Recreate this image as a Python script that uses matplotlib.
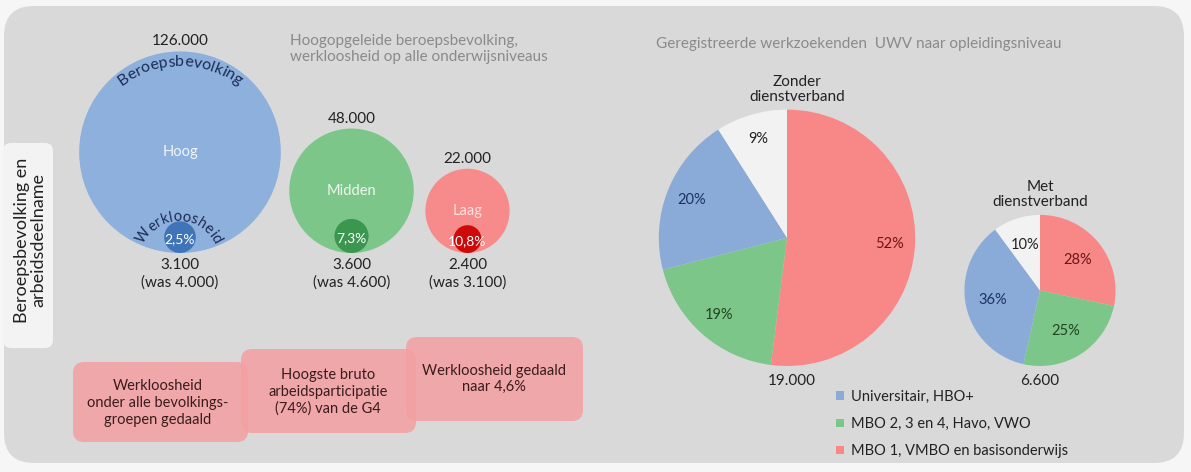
import numpy as np
import matplotlib
matplotlib.use("Agg")
import matplotlib.pyplot as plt
from matplotlib.patches import Circle, FancyBboxPatch
from matplotlib.font_manager import FontProperties

# ---------------- data ----------------
levels = ["Hoog", "Midden", "Laag"]
labour_force = [126000, 48000, 22000]
unemployed = [3100, 3600, 2400]
unemployed_before = [4000, 4600, 3100]
unemployment_rate = ["2,5%", "7,3%", "10,8%"]

pie_categories = ["MBO 1, VMBO en basisonderwijs", "MBO 2, 3 en 4, Havo, VWO",
                  "Universitair, HBO+", "Onbekend"]
zonder_pct = [52, 19, 20, 9]
met_pct = [28, 25, 36, 10]
pie_totals = [19000, 6600]
pie_titles = ["Zonder\ndienstverband", "Met\ndienstverband"]

highlights = ["Werkloosheid\nonder alle bevolkings-\ngroepen gedaald",
              "Hoogste bruto\narbeidsparticipatie\n(74%) van de G4",
              "Werkloosheid gedaald\nnaar 4,6%"]

title_left = "Hoogopgeleide beroepsbevolking,\nwerkloosheid op alle onderwijsniveaus"
title_right = "Geregistreerde werkzoekenden  UWV naar opleidingsniveau"
side_label = "Beroepsbevolking en\narbeidsdeelname"

# ---------------- style ----------------
FONT = "Lato"
plt.rcParams["font.family"] = [FONT, "DejaVu Sans"]
W, H = 1191, 472
PANEL = "#d9d9d9"
bubble_cols = ["#8db0dc", "#7dc68a", "#f78b8b"]
inner_cols = ["#3f74b8", "#3b9650", "#cc0a0a"]
label_cols = ["#f2f5fb", "#eef8ef", "#fbe3e3"]
pie_cols = ["#f88788", "#7dc68a", "#8aaad8", "#f2f2f2"]
pct_cols = ["#6b1515", "#1e4620", "#1c3360", "#222222"]
TXT = "#222222"


def nl(v):
    return f"{v:,}".replace(",", ".")


fig = plt.figure(figsize=(W / 100, H / 100), dpi=100)
fig.patch.set_facecolor("#f6f6f6")
ax = fig.add_axes([0, 0, 1, 1])
ax.set_xlim(0, W)
ax.set_ylim(H, 0)
ax.axis("off")

# panel
ax.add_patch(FancyBboxPatch((4, 6), 1180, 457, boxstyle="round,pad=0,rounding_size=30",
                            fc=PANEL, ec="none"))

# side label box
ax.add_patch(FancyBboxPatch((3, 143), 50, 205, boxstyle="round,pad=0,rounding_size=8",
                            fc="#f3f3f3", ec="none"))
ax.text(30, 240, side_label, rotation=90, ha="center", va="center", fontsize=13,
        color=TXT, linespacing=1.0, multialignment="center")

# titles
ax.text(290, 49, title_left, ha="left", va="center", fontsize=11, color="#8a8a8a",
        linespacing=1.2)
ax.text(656, 44, title_right, ha="left", va="center", fontsize=11, color="#8a8a8a")

# ---------------- bubbles ----------------
k = 0.284
bx = [180, 351.5, 467.5]
base_y = 253
for i in range(3):
    r = k * np.sqrt(labour_force[i])
    cy = base_y - r
    ax.add_patch(Circle((bx[i], cy), r, fc=bubble_cols[i], ec="none"))
    ri = k * np.sqrt(unemployed[i])
    ax.add_patch(Circle((bx[i], base_y - ri), ri, fc=inner_cols[i], ec="none"))
    ax.text(bx[i], cy, levels[i], ha="center", va="center", fontsize=10.5, color=label_cols[i])
    ax.text(bx[i], base_y - ri + 2, unemployment_rate[i], ha="center", va="center",
            fontsize=10, color="white")
    ax.text(bx[i], cy - r - 10, nl(labour_force[i]), ha="center", va="center",
            fontsize=11, color=TXT)
    ax.text(bx[i], 265, nl(unemployed[i]), ha="center", va="center", fontsize=11, color=TXT)
    ax.text(bx[i], 283, f"(was {nl(unemployed_before[i])})", ha="center", va="center",
            fontsize=11, color=TXT)

fig.canvas.draw()
renderer = fig.canvas.get_renderer()


def arc_text(s, cx, cy, r, size, color):
    fp = FontProperties(family=FONT, size=size)

    def width(t):
        if not t:
            return 0.0
        w, _, _ = renderer.get_text_width_height_descent(t, fp, ismath=False)
        return w

    L = width(s)
    for i, ch in enumerate(s):
        c = (width(s[:i]) + width(s[:i + 1])) / 2.0
        d = c - L / 2.0
        th = np.pi / 2 - d / r
        x = cx + r * np.cos(th)
        y = cy - r * np.sin(th)
        ax.text(x, y, ch, fontproperties=fp, color=color, ha="center", va="baseline",
                rotation=np.degrees(th) - 90, rotation_mode="anchor")


arc_text("Beroepsbevolking", 180, 162, 96, 11.5, "#1b2b55")
arc_text("Werkloosheid", 179, 259, 38, 10.5, "#1b2b55")

# ---------------- highlight boxes ----------------
boxes = [(73, 362, 175, 80), (241, 349, 175, 84), (406, 337, 177, 84)]
text_pos = [(158, 403), (328, 392), (494, 379)]
for (x0, y0, w, h), (tx, ty), s in zip(boxes, text_pos, highlights):
    ax.add_patch(FancyBboxPatch((x0, y0), w, h, boxstyle="round,pad=0,rounding_size=11",
                                fc="#f49fa2", ec="none", alpha=0.85))
    ax.text(tx, ty, s, ha="center", va="center", fontsize=10.5, color="#3a1c1c",
            linespacing=1.25, multialignment="center")

# ---------------- pies ----------------
pie_scale = 0.93
pie_cx = [787, 1040]
pie_base = 366
pie_data = [zonder_pct, met_pct]
pct_dist = [0.8, 0.64]
wedges_first = None
for j in range(2):
    r = pie_scale * np.sqrt(pie_totals[j])
    cx, cy = pie_cx[j], pie_base - r
    pax = fig.add_axes([(cx - r) / W, (H - cy - r) / H, 2 * r / W, 2 * r / H])
    vals = pie_data[j]
    tot = sum(vals)
    wedges, texts, autotexts = pax.pie(
        vals, colors=pie_cols, startangle=90, counterclock=False, radius=1,
        autopct=lambda p, t=tot: f"{round(p * t / 100)}%", pctdistance=pct_dist[j],
        frame=True, wedgeprops=dict(linewidth=0),
        textprops=dict(fontsize=10.5))
    for at, c in zip(autotexts, pct_cols):
        at.set_color(c)
    pax.set_xlim(-1, 1)
    pax.set_ylim(-1, 1)
    pax.set_aspect("auto")
    pax.axis("off")
    if wedges_first is None:
        wedges_first = wedges
    ax.text(cx + (10 if j == 0 else 0), cy - r - 6, pie_titles[j], ha="center", va="bottom",
            fontsize=11, color=TXT, linespacing=1.05)
    ax.text(cx + (5 if j == 0 else 0), pie_base + 15, nl(pie_totals[j]), ha="center",
            va="center", fontsize=11, color=TXT)

order = [2, 1, 0]
leg = ax.legend([wedges_first[i] for i in order], [pie_categories[i] for i in order],
                loc="upper left", bbox_to_anchor=(836 / W, 1 - 390 / H),
                bbox_transform=fig.transFigure, frameon=False, fontsize=10.5,
                handlelength=0.55, handleheight=0.55, handletextpad=0.45,
                labelspacing=0.9, borderpad=0, borderaxespad=0)
for t in leg.get_texts():
    t.set_color(TXT)

fig.savefig("out.png", dpi=100, facecolor=fig.get_facecolor())
